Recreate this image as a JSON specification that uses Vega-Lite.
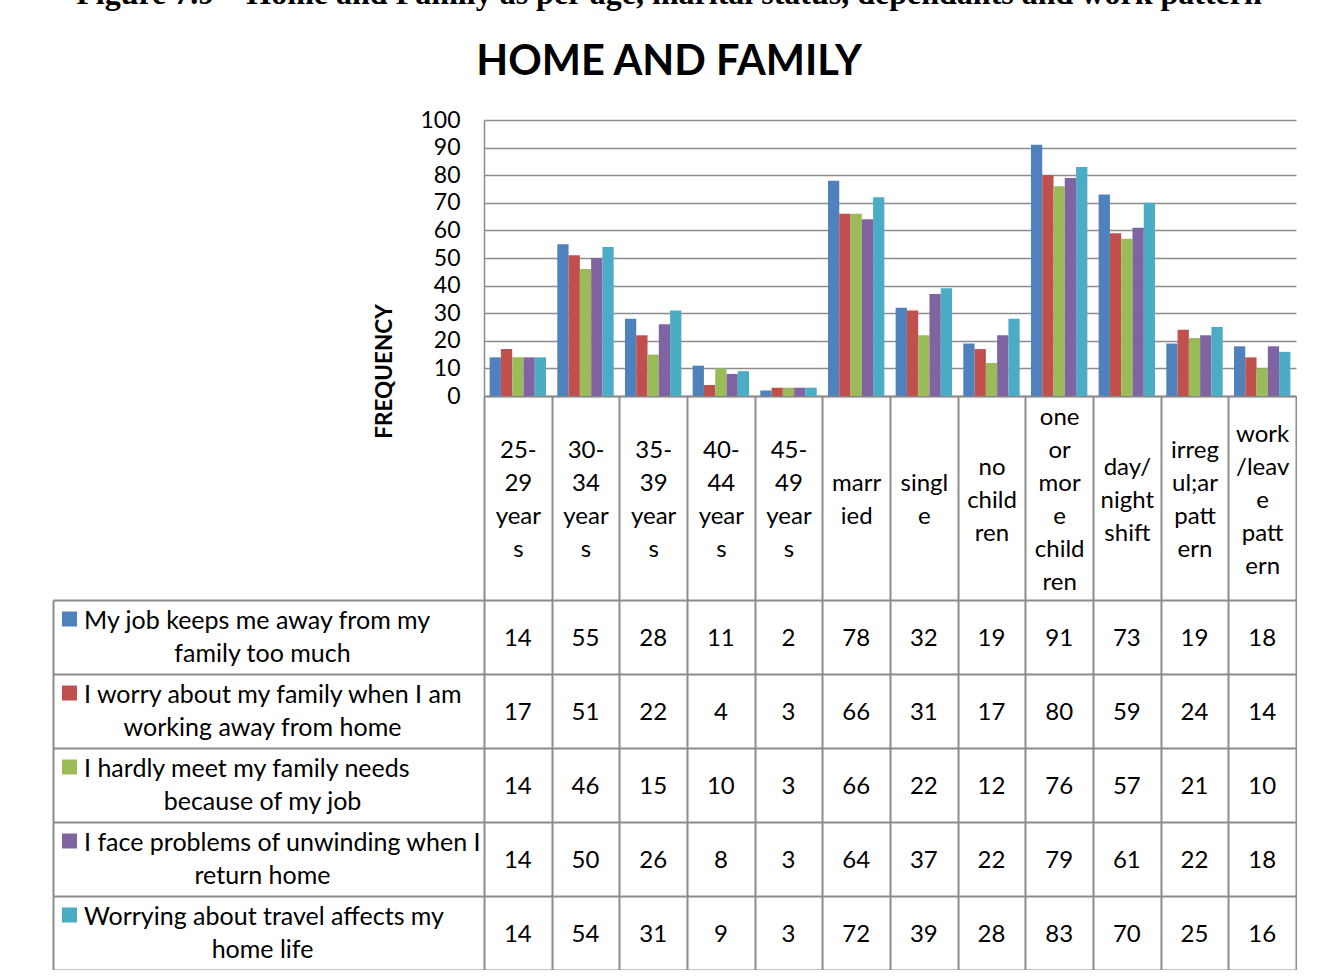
{
  "$schema": "https://vega.github.io/schema/vega-lite/v6.json",
  "padding": {"left": 53, "top": -23, "right": 0, "bottom": 0},
  "background": "white",
  "title": {
    "text": "Figure 7.9 – Home and Family as per age, marital status, dependants and work pattern",
    "subtitle": "HOME AND FAMILY",
    "font": "Liberation Serif",
    "fontSize": 32,
    "fontWeight": "bold",
    "color": "black",
    "subtitleFont": "Lato",
    "subtitleFontSize": 41.5,
    "subtitleFontWeight": "bold",
    "subtitleColor": "black",
    "subtitlePadding": 31,
    "anchor": "middle",
    "frame": "bounds",
    "offset": 25,
    "dx": -6
  },
  "config": {
    "font": "Lato",
    "view": {"stroke": null},
    "axis": {"labelFont": "Lato", "titleFont": "Lato", "labelColor": "black", "titleColor": "black"}
  },
  "datasets": {
    "series": [
      {"series": "My job keeps me away from my family too much", "line1": "My job keeps me away from my", "line2": "family too much"},
      {"series": "I worry about my family when I am working away from home", "line1": "I worry about my family when I am", "line2": "working away from home"},
      {"series": "I hardly meet my family needs because of my job", "line1": "I hardly meet my family needs", "line2": "because of my job"},
      {"series": "I face problems of unwinding when I return home", "line1": "I face problems of unwinding when I", "line2": "return home"},
      {"series": "Worrying about travel affects my home life", "line1": "Worrying about travel affects my", "line2": "home life"}
    ],
    "rows": [
      {"category": "25-29 years", "series": "My job keeps me away from my family too much", "value": 14},
      {"category": "30-34 years", "series": "My job keeps me away from my family too much", "value": 55},
      {"category": "35-39 years", "series": "My job keeps me away from my family too much", "value": 28},
      {"category": "40-44 years", "series": "My job keeps me away from my family too much", "value": 11},
      {"category": "45-49 years", "series": "My job keeps me away from my family too much", "value": 2},
      {"category": "married", "series": "My job keeps me away from my family too much", "value": 78},
      {"category": "single", "series": "My job keeps me away from my family too much", "value": 32},
      {"category": "no children", "series": "My job keeps me away from my family too much", "value": 19},
      {"category": "one or more children", "series": "My job keeps me away from my family too much", "value": 91},
      {"category": "day/night shift", "series": "My job keeps me away from my family too much", "value": 73},
      {"category": "irregul;ar pattern", "series": "My job keeps me away from my family too much", "value": 19},
      {"category": "work/leave pattern", "series": "My job keeps me away from my family too much", "value": 18},
      {"category": "25-29 years", "series": "I worry about my family when I am working away from home", "value": 17},
      {"category": "30-34 years", "series": "I worry about my family when I am working away from home", "value": 51},
      {"category": "35-39 years", "series": "I worry about my family when I am working away from home", "value": 22},
      {"category": "40-44 years", "series": "I worry about my family when I am working away from home", "value": 4},
      {"category": "45-49 years", "series": "I worry about my family when I am working away from home", "value": 3},
      {"category": "married", "series": "I worry about my family when I am working away from home", "value": 66},
      {"category": "single", "series": "I worry about my family when I am working away from home", "value": 31},
      {"category": "no children", "series": "I worry about my family when I am working away from home", "value": 17},
      {"category": "one or more children", "series": "I worry about my family when I am working away from home", "value": 80},
      {"category": "day/night shift", "series": "I worry about my family when I am working away from home", "value": 59},
      {"category": "irregul;ar pattern", "series": "I worry about my family when I am working away from home", "value": 24},
      {"category": "work/leave pattern", "series": "I worry about my family when I am working away from home", "value": 14},
      {"category": "25-29 years", "series": "I hardly meet my family needs because of my job", "value": 14},
      {"category": "30-34 years", "series": "I hardly meet my family needs because of my job", "value": 46},
      {"category": "35-39 years", "series": "I hardly meet my family needs because of my job", "value": 15},
      {"category": "40-44 years", "series": "I hardly meet my family needs because of my job", "value": 10},
      {"category": "45-49 years", "series": "I hardly meet my family needs because of my job", "value": 3},
      {"category": "married", "series": "I hardly meet my family needs because of my job", "value": 66},
      {"category": "single", "series": "I hardly meet my family needs because of my job", "value": 22},
      {"category": "no children", "series": "I hardly meet my family needs because of my job", "value": 12},
      {"category": "one or more children", "series": "I hardly meet my family needs because of my job", "value": 76},
      {"category": "day/night shift", "series": "I hardly meet my family needs because of my job", "value": 57},
      {"category": "irregul;ar pattern", "series": "I hardly meet my family needs because of my job", "value": 21},
      {"category": "work/leave pattern", "series": "I hardly meet my family needs because of my job", "value": 10},
      {"category": "25-29 years", "series": "I face problems of unwinding when I return home", "value": 14},
      {"category": "30-34 years", "series": "I face problems of unwinding when I return home", "value": 50},
      {"category": "35-39 years", "series": "I face problems of unwinding when I return home", "value": 26},
      {"category": "40-44 years", "series": "I face problems of unwinding when I return home", "value": 8},
      {"category": "45-49 years", "series": "I face problems of unwinding when I return home", "value": 3},
      {"category": "married", "series": "I face problems of unwinding when I return home", "value": 64},
      {"category": "single", "series": "I face problems of unwinding when I return home", "value": 37},
      {"category": "no children", "series": "I face problems of unwinding when I return home", "value": 22},
      {"category": "one or more children", "series": "I face problems of unwinding when I return home", "value": 79},
      {"category": "day/night shift", "series": "I face problems of unwinding when I return home", "value": 61},
      {"category": "irregul;ar pattern", "series": "I face problems of unwinding when I return home", "value": 22},
      {"category": "work/leave pattern", "series": "I face problems of unwinding when I return home", "value": 18},
      {"category": "25-29 years", "series": "Worrying about travel affects my home life", "value": 14},
      {"category": "30-34 years", "series": "Worrying about travel affects my home life", "value": 54},
      {"category": "35-39 years", "series": "Worrying about travel affects my home life", "value": 31},
      {"category": "40-44 years", "series": "Worrying about travel affects my home life", "value": 9},
      {"category": "45-49 years", "series": "Worrying about travel affects my home life", "value": 3},
      {"category": "married", "series": "Worrying about travel affects my home life", "value": 72},
      {"category": "single", "series": "Worrying about travel affects my home life", "value": 39},
      {"category": "no children", "series": "Worrying about travel affects my home life", "value": 28},
      {"category": "one or more children", "series": "Worrying about travel affects my home life", "value": 83},
      {"category": "day/night shift", "series": "Worrying about travel affects my home life", "value": 70},
      {"category": "irregul;ar pattern", "series": "Worrying about travel affects my home life", "value": 25},
      {"category": "work/leave pattern", "series": "Worrying about travel affects my home life", "value": 16}
    ]
  },
  "bounds": "flush",
  "spacing": 480,
  "vconcat": [
    {
      "bounds": "flush",
      "spacing": 0,
      "hconcat": [
        {
          "width": 431,
          "height": 276,
          "data": {"values": [{}]},
          "mark": {"type": "point", "opacity": 0},
          "encoding": {}
        },
        {
          "width": 812,
          "height": 276,
          "data": {"name": "rows"},
          "mark": {"type": "bar"},
          "encoding": {
            "x": {
              "field": "category",
              "type": "nominal",
              "scale": {
                "domain": ["25-29 years", "30-34 years", "35-39 years", "40-44 years", "45-49 years", "married", "single", "no children", "one or more children", "day/night shift", "irregul;ar pattern", "work/leave pattern"],
                "paddingInner": 0,
                "paddingOuter": 0
              },
              "axis": {
                "title": null,
                "labelAngle": 0,
                "labelExpr": "{'25-29 years': ['25-','29','year','s'], '30-34 years': ['30-','34','year','s'], '35-39 years': ['35-','39','year','s'], '40-44 years': ['40-','44','year','s'], '45-49 years': ['45-','49','year','s'], 'married': ['marr','ied'], 'single': ['singl','e'], 'no children': ['no','child','ren'], 'one or more children': ['one','or','mor','e','child','ren'], 'day/night shift': ['day/','night','shift'], 'irregul;ar pattern': ['irreg','ul;ar','patt','ern'], 'work/leave pattern': ['work','/leav','e','patt','ern']}[datum.label]",
                "labelFontSize": 24,
                "labelLineHeight": 33,
                "labelBaseline": "middle",
                "labelAlign": "center",
                "labelPadding": {
                  "condition": [
                    {"test": "indexof(['married','single'], datum.value) >= 0", "value": -116.5},
                    {"test": "indexof(['no children','day/night shift'], datum.value) >= 0", "value": -133},
                    {"test": "datum.value == 'work/leave pattern'", "value": -166},
                    {"test": "datum.value == 'one or more children'", "value": -182.5}
                  ],
                  "value": -149.5
                },
                "labelOverlap": false,
                "labelLimit": 0,
                "tickSize": 204,
                "tickBand": "extent",
                "tickColor": "#8c8c8c",
                "tickWidth": 2,
                "domainColor": "#8c8c8c",
                "domainWidth": 2
              }
            },
            "xOffset": {
              "field": "series",
              "type": "nominal",
              "scale": {
                "domain": ["My job keeps me away from my family too much", "I worry about my family when I am working away from home", "I hardly meet my family needs because of my job", "I face problems of unwinding when I return home", "Worrying about travel affects my home life"],
                "paddingInner": 0,
                "paddingOuter": 0.5
              }
            },
            "y": {
              "field": "value",
              "type": "quantitative",
              "scale": {"domain": [0, 100]},
              "axis": {
                "values": [0, 10, 20, 30, 40, 50, 60, 70, 80, 90, 100],
                "title": "FREQUENCY",
                "titleFontSize": 22.5,
                "titleFontWeight": "bold",
                "titleAngle": -90,
                "titleX": -100,
                "titleY": 251,
                "titleAlign": "center",
                "titleBaseline": "middle",
                "labelFontSize": 23,
                "labelPadding": 24,
                "ticks": false,
                "grid": true,
                "gridColor": "#8c8c8c",
                "gridWidth": 1.5,
                "domainColor": "#8c8c8c",
                "domainWidth": 1.5
              }
            },
            "color": {
              "field": "series",
              "type": "nominal",
              "scale": {
                "domain": ["My job keeps me away from my family too much", "I worry about my family when I am working away from home", "I hardly meet my family needs because of my job", "I face problems of unwinding when I return home", "Worrying about travel affects my home life"],
                "range": ["#4F81BD", "#C0504D", "#9BBB59", "#8064A2", "#4BACC6"]
              },
              "legend": null
            }
          }
        }
      ]
    },
    {
      "bounds": "flush",
      "spacing": 0,
      "hconcat": [
        {
          "width": 431,
          "height": 370,
          "data": {"name": "series"},
          "encoding": {
            "y": {
              "field": "series",
              "type": "nominal",
              "scale": {
                "type": "band",
                "domain": ["My job keeps me away from my family too much", "I worry about my family when I am working away from home", "I hardly meet my family needs because of my job", "I face problems of unwinding when I return home", "Worrying about travel affects my home life"],
                "paddingInner": 0,
                "paddingOuter": 0
              },
              "axis": {"title": null, "labels": false, "ticks": false, "grid": true, "tickBand": "extent", "gridColor": "#8c8c8c", "gridWidth": 2, "domainColor": "#8c8c8c", "domainWidth": 2}
            }
          },
          "layer": [
            {
              "mark": {"type": "text", "fontSize": 25, "align": "left", "baseline": "middle", "dx": -184.5, "dy": -16.5, "color": "black"},
              "encoding": {"text": {"field": "line1", "type": "nominal"}}
            },
            {
              "mark": {"type": "text", "fontSize": 25, "align": "center", "baseline": "middle", "dx": -6, "dy": 16.5, "color": "black"},
              "encoding": {"text": {"field": "line2", "type": "nominal"}}
            },
            {
              "mark": {"type": "point", "shape": "square", "filled": true, "size": 225, "xOffset": -199, "yOffset": -18, "opacity": 1},
              "encoding": {
                "color": {
                  "field": "series",
                  "type": "nominal",
                  "scale": {
                    "domain": ["My job keeps me away from my family too much", "I worry about my family when I am working away from home", "I hardly meet my family needs because of my job", "I face problems of unwinding when I return home", "Worrying about travel affects my home life"],
                    "range": ["#4F81BD", "#C0504D", "#9BBB59", "#8064A2", "#4BACC6"]
                  },
                  "legend": null
                }
              }
            }
          ]
        },
        {
          "width": 812,
          "height": 370,
          "data": {"name": "rows"},
          "mark": {"type": "text", "fontSize": 24, "color": "black", "dy": 2},
          "encoding": {
            "x": {
              "field": "category",
              "type": "nominal",
              "scale": {
                "type": "band",
                "domain": ["25-29 years", "30-34 years", "35-39 years", "40-44 years", "45-49 years", "married", "single", "no children", "one or more children", "day/night shift", "irregul;ar pattern", "work/leave pattern"],
                "paddingInner": 0,
                "paddingOuter": 0
              },
              "axis": {"title": null, "labels": false, "ticks": false, "domain": false, "grid": true, "tickBand": "extent", "gridColor": "#8c8c8c", "gridWidth": 2}
            },
            "y": {
              "field": "series",
              "type": "nominal",
              "scale": {
                "type": "band",
                "domain": ["My job keeps me away from my family too much", "I worry about my family when I am working away from home", "I hardly meet my family needs because of my job", "I face problems of unwinding when I return home", "Worrying about travel affects my home life"],
                "paddingInner": 0,
                "paddingOuter": 0
              },
              "axis": {"title": null, "labels": false, "ticks": false, "domain": false, "grid": true, "tickBand": "extent", "gridColor": "#8c8c8c", "gridWidth": 2}
            },
            "text": {"field": "value", "type": "quantitative"}
          }
        }
      ]
    }
  ]
}
